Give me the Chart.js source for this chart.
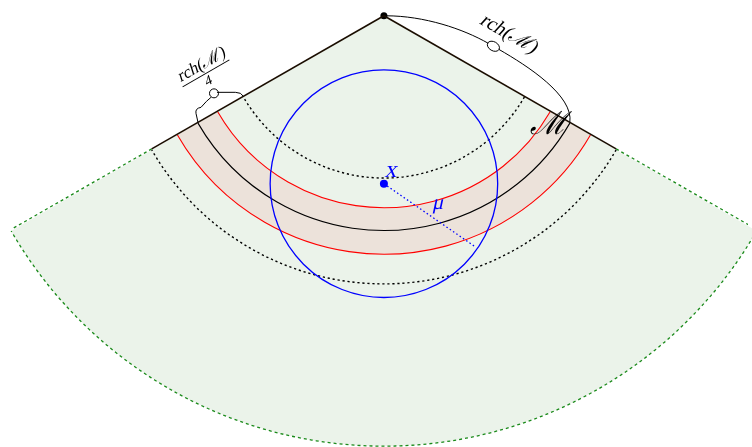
<!DOCTYPE html>
<html>
<head>
<meta charset="utf-8">
<script src="https://cdn.jsdelivr.net/npm/chart.js@4/dist/chart.umd.min.js"></script>
<style>
html, body { margin: 0; padding: 0; background: #fff; }
#wrap { width: 752px; height: 447px; }
</style>
</head>
<body>
<div id="wrap"><canvas id="chart" width="752" height="447"></canvas></div>
<script>
// diagram values, in picture units (y grows downward)
const apex = [384, 12]
const coneAngles = [30, 150]
const arcNames = ["inner", "redInner", "manifold", "redOuter", "outer", "boundary"]
const arcRadii = [164, 194, 217, 241, 271, 435]
const ballCenter = [384, 183]
const ballRadius = 115
const muEnd = [476, 247]
const labels = ["x", "μ", "ℳ", "rch(ℳ)", "4"]

const radius = name => arcRadii[arcNames.indexOf(name)]
const rad = d => d * Math.PI / 180
const onEdge = (r, deg) => ({ x: apex[0] + r * Math.cos(rad(deg)), y: apex[1] + r * Math.sin(rad(deg)) })
const pt = p => ({ x: p[0], y: p[1] })

const greenFill = "#ebf3ea"
const bandFill = "#ece2da"
const darkGreen = "#1a8a1a"
const serif = "\"Liberation Serif\", \"DejaVu Serif\", serif"

function line(data, color, width, dash) {
    return {
        data: data,
        showLine: true,
        borderColor: color,
        borderWidth: width,
        borderDash: dash || [],
        pointRadius: 0,
        fill: false,
    }
}

// slanted text, like a math italic
function mathText(ctx, text, x, y, size, color, angle, baseline) {
    ctx.save()
    ctx.translate(x, y)
    ctx.rotate(angle || 0)
    ctx.transform(1, 0, -0.22, 1, 0, 0)
    ctx.font = size + "px " + serif
    ctx.fillStyle = color
    ctx.textAlign = "center"
    ctx.textBaseline = baseline || "middle"
    ctx.fillText(text, 0, 0)
    ctx.restore()
}

const datasets = [
    line([pt(apex), onEdge(radius("outer"), coneAngles[1])], "#1a0d00", 1.6),
    line([pt(apex), onEdge(radius("outer"), coneAngles[0])], "#1a0d00", 1.6),
    line([onEdge(radius("outer"), coneAngles[1]), onEdge(radius("boundary"), coneAngles[1])], darkGreen, 1.3, [3, 3]),
    line([onEdge(radius("outer"), coneAngles[0]), onEdge(radius("boundary"), coneAngles[0])], darkGreen, 1.3, [3, 3]),
    line([pt(ballCenter), pt(muEnd)], "#0000ff", 1.3, [1.5, 2.5]),
    { data: [pt(ballCenter)], pointRadius: 4, pointBackgroundColor: "#0000ff", pointBorderWidth: 0 },
    { data: [pt(apex)], pointRadius: 3.5, pointBackgroundColor: "#000", pointBorderWidth: 0 },
]

const diagram = {
    id: "diagram",
    beforeDatasetsDraw(chart) {
        const ctx = chart.ctx
        const xs = chart.scales.x, ys = chart.scales.y
        const px = v => xs.getPixelForValue(v), py = v => ys.getPixelForValue(v)
        const k = px(1) - px(0)
        const cx = px(apex[0]), cy = py(apex[1])
        const a0 = rad(coneAngles[0]), a1 = rad(coneAngles[1])

        ctx.save()
        // cone sector
        ctx.beginPath()
        ctx.moveTo(cx, cy)
        ctx.arc(cx, cy, radius("boundary") * k, a0, a1)
        ctx.closePath()
        ctx.fillStyle = greenFill
        ctx.fill()

        // band between the red arcs
        ctx.beginPath()
        ctx.arc(cx, cy, radius("redOuter") * k, a0, a1)
        ctx.arc(cx, cy, radius("redInner") * k, a1, a0, true)
        ctx.closePath()
        ctx.fillStyle = bandFill
        ctx.fill()

        const arc = (name, color, width, dash) => {
            ctx.beginPath()
            ctx.setLineDash(dash || [])
            ctx.strokeStyle = color
            ctx.lineWidth = width
            ctx.arc(cx, cy, radius(name) * k, a0, a1)
            ctx.stroke()
        }
        arc("inner", "#000", 1.4, [2.2, 2.8])
        arc("outer", "#000", 1.4, [2.2, 2.8])
        arc("redInner", "#ff0000", 1.1)
        arc("redOuter", "#ff0000", 1.1)
        arc("manifold", "#000", 1.1)
        arc("boundary", darkGreen, 1.3, [3, 3])

        // ball around x
        ctx.setLineDash([])
        ctx.beginPath()
        ctx.arc(px(ballCenter[0]), py(ballCenter[1]), ballRadius * k, 0, Math.PI * 2)
        ctx.strokeStyle = "#0000ff"
        ctx.lineWidth = 1.3
        ctx.stroke()
        ctx.restore()
    },
    afterDatasetsDraw(chart) {
        const ctx = chart.ctx
        const xs = chart.scales.x, ys = chart.scales.y
        const P = p => ({ x: xs.getPixelForValue(p.x), y: ys.getPixelForValue(p.y) })

        ctx.save()
        ctx.strokeStyle = "#000"
        ctx.lineWidth = 1
        ctx.setLineDash([])

        // brace for rch(M) along the right edge
        const a = P(pt(apex)), b = P(onEdge(radius("manifold"), coneAngles[0]))
        const L = Math.hypot(b.x - a.x, b.y - a.y)
        const u = { x: (b.x - a.x) / L, y: (b.y - a.y) / L }
        const n = { x: u.y, y: -u.x }
        const tip = { x: (a.x + b.x) / 2 + n.x * 28 + u.x * 3, y: (a.y + b.y) / 2 + n.y * 28 + u.y * 3 }
        ctx.beginPath()
        ctx.moveTo(a.x + 2, a.y)
        ctx.bezierCurveTo(a.x + u.x * 35 + n.x * 20, a.y + u.y * 35 + n.y * 20,
            tip.x - u.x * 35, tip.y - u.y * 35, tip.x - u.x * 6, tip.y - u.y * 6)
        ctx.moveTo(tip.x + u.x * 6, tip.y + u.y * 6)
        ctx.bezierCurveTo(tip.x + u.x * 40, tip.y + u.y * 40,
            b.x + n.x * 25 - u.x * 10, b.y + n.y * 25 - u.y * 10, b.x, b.y)
        ctx.stroke()
        ctx.beginPath()
        ctx.ellipse(tip.x, tip.y, 6.5, 4.5, Math.atan2(u.y, u.x), 0, Math.PI * 2)
        ctx.stroke()

        mathText(ctx, labels[3], tip.x + n.x * 18 + u.x * 8, tip.y + n.y * 18 + u.y * 8,
            20, "#000", Math.atan2(u.y, u.x))

        // bracket for rch(M)/4 on the left edge
        const p0 = P(onEdge(radius("manifold"), coneAngles[1]))
        const p1 = P(onEdge(radius("inner"), coneAngles[1]))
        const t = { x: p0.x + 15, y: p0.y - 28 }
        ctx.beginPath()
        ctx.moveTo(p0.x, p0.y)
        ctx.lineTo(p0.x - 2, p0.y - 9)
        ctx.quadraticCurveTo(p0.x - 3, p0.y - 14, p0.x + 3, p0.y - 15)
        ctx.quadraticCurveTo(t.x - 6, t.y + 6, t.x - 2, t.y + 3)
        ctx.moveTo(t.x + 4, t.y - 2)
        ctx.lineTo(p1.x - 8, p1.y - 4)
        ctx.quadraticCurveTo(p1.x - 2, p1.y - 4, p1.x, p1.y)
        ctx.stroke()
        ctx.beginPath()
        ctx.ellipse(t.x + 1, t.y - 1, 4.5, 4.5, 0, 0, Math.PI * 2)
        ctx.stroke()

        // fraction rch(M) / 4
        const f = { x: t.x - 7, y: t.y - 21 }
        const ang = -rad(30)
        const off = d => ({ x: f.x - Math.sin(ang) * d, y: f.y + Math.cos(ang) * d })
        const num = off(-5), den = off(1)
        mathText(ctx, labels[3], num.x, num.y, 17, "#000", ang, "alphabetic")
        mathText(ctx, labels[4], den.x, den.y, 14, "#000", ang, "top")
        ctx.save()
        ctx.translate(f.x, f.y)
        ctx.rotate(ang)
        ctx.beginPath()
        ctx.moveTo(-27, 0)
        ctx.lineTo(27, 0)
        ctx.lineWidth = 0.9
        ctx.stroke()
        ctx.restore()

        // M, x, mu
        mathText(ctx, labels[2], 550, 126, 32, "#000")
        const c = P(pt(ballCenter))
        mathText(ctx, labels[0], c.x + 8, c.y - 13, 24, "#0000ff")
        mathText(ctx, labels[1], c.x + 55, c.y + 20, 21, "#0000ff")
        ctx.restore()
    }
}

new Chart(document.getElementById("chart"), {
    type: "scatter",
    data: { datasets: datasets },
    options: {
        responsive: false,
        animation: false,
        devicePixelRatio: 1,
        layout: { padding: 0 },
        scales: {
            x: { type: "linear", min: 0, max: 752, display: false },
            y: { type: "linear", min: 0, max: 447, reverse: true, display: false },
        },
        plugins: { legend: { display: false }, tooltip: { enabled: false } },
    },
    plugins: [diagram],
})
</script>
</body>
</html>
